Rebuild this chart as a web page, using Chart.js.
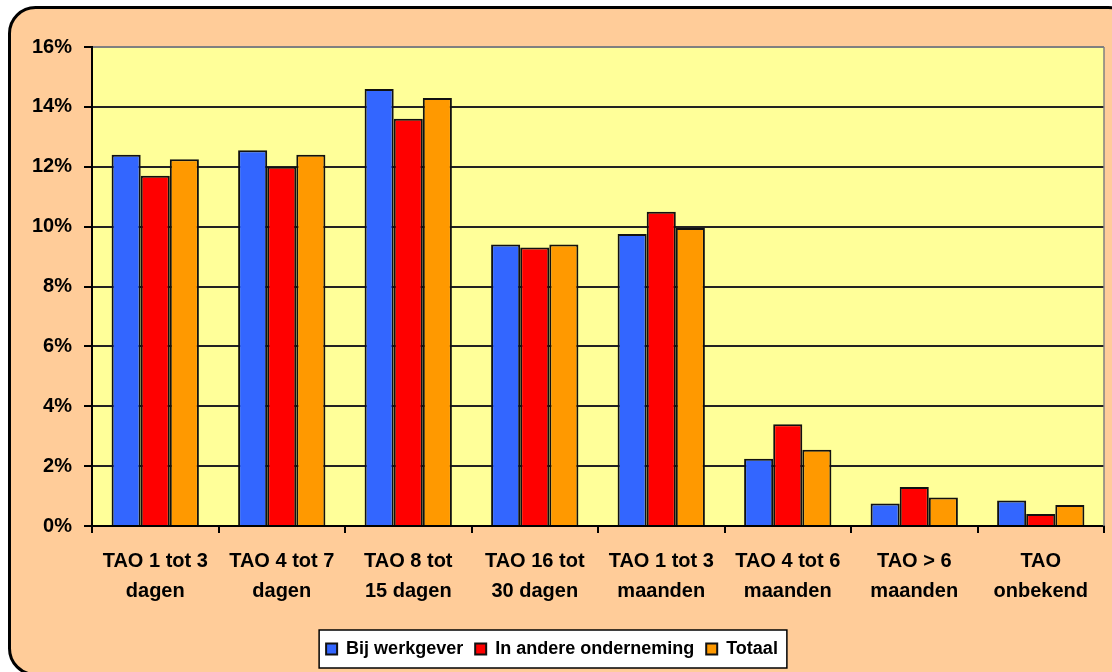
<!DOCTYPE html>
<html>
<head>
<meta charset="utf-8">
<script src="https://cdn.jsdelivr.net/npm/chart.js@4.4.0/dist/chart.umd.min.js"></script>
<style>
  html, body { margin: 0; padding: 0; background: #fff; }
  #wrap { width: 1112px; height: 672px; }
</style>
</head>
<body>
<div id="wrap"><canvas id="tao" width="1112" height="672"></canvas></div>
<script>
// chart data
const categories = [
    ['TAO 1 tot 3', 'dagen'],
    ['TAO 4 tot 7', 'dagen'],
    ['TAO 8 tot', '15 dagen'],
    ['TAO 16 tot', '30 dagen'],
    ['TAO 1 tot 3', 'maanden'],
    ['TAO 4 tot 6', 'maanden'],
    ['TAO > 6', 'maanden'],
    ['TAO', 'onbekend']
];
const seriesNames = ['Bij werkgever', 'In andere onderneming', 'Totaal'];
const bijWerkgever = [12.4, 12.55, 14.6, 9.4, 9.75, 2.25, 0.75, 0.85];
const andereOnderneming = [11.7, 12.0, 13.6, 9.3, 10.5, 3.4, 1.3, 0.4];
const totaal = [12.25, 12.4, 14.3, 9.4, 9.95, 2.55, 0.95, 0.7];
const yTicks = [0, 2, 4, 6, 8, 10, 12, 14, 16];

const FONT = "'Liberation Sans', Arial, sans-serif";

// background: rounded peach frame, yellow plot area, white legend box
const framePlugin = {
    id: 'frame',
    beforeDraw(chart) {
        const ctx = chart.ctx;
        const area = chart.chartArea;
        ctx.save();
        ctx.fillStyle = '#fff';
        ctx.fillRect(0, 0, chart.width, chart.height);

        ctx.beginPath();
        ctx.roundRect(9.5, 7.5, 1125, 667, 26);
        ctx.fillStyle = '#FFCC99';
        ctx.fill();
        ctx.lineWidth = 3;
        ctx.strokeStyle = '#000';
        ctx.stroke();

        ctx.fillStyle = '#FFFF99';
        ctx.fillRect(area.left, area.top, area.right - area.left, area.bottom - area.top);

        const boxes = chart.legend.legendHitBoxes;
        if (boxes && boxes.length) {
            const l = Math.min(...boxes.map(b => b.left)) - 7;
            const r = Math.max(...boxes.map(b => b.left + b.width)) + 9;
            const t = Math.min(...boxes.map(b => b.top)) - 10;
            const b2 = Math.max(...boxes.map(b => b.top + b.height)) + 10;
            ctx.fillStyle = '#fff';
            ctx.fillRect(l, t, r - l, b2 - t);
            ctx.lineWidth = 1.5;
            ctx.strokeStyle = '#000';
            ctx.strokeRect(l, t, r - l, b2 - t);
        }
        ctx.restore();
    },
    afterDraw(chart) {
        // gray right edge of plot area
        const ctx = chart.ctx;
        const area = chart.chartArea;
        ctx.save();
        ctx.strokeStyle = '#808080';
        ctx.lineWidth = 1.5;
        ctx.beginPath();
        ctx.moveTo(area.right, area.top);
        ctx.lineTo(area.right, area.bottom);
        ctx.stroke();
        ctx.restore();
    }
};

const colors = ['#3366FF', '#FF0000', '#FF9900'];
const values = [bijWerkgever, andereOnderneming, totaal];

new Chart(document.getElementById('tao').getContext('2d'), {
    type: 'bar',
    data: {
        labels: categories,
        datasets: seriesNames.map((name, i) => ({
            label: name,
            data: values[i],
            backgroundColor: colors[i],
            borderColor: '#111',
            borderWidth: 2,
            barPercentage: 1.0,
            categoryPercentage: 0.69
        }))
    },
    options: {
        responsive: false,
        animation: false,
        layout: { padding: { left: 0, right: 8, top: 47, bottom: 4 } },
        plugins: {
            tooltip: { enabled: false },
            legend: {
                position: 'bottom',
                labels: {
                    color: '#000',
                    font: { family: FONT, size: 18, weight: 'bold' },
                    boxWidth: 11,
                    boxHeight: 11,
                    padding: 12
                }
            }
        },
        scales: {
            x: {
                afterFit: s => { s.height = 102; },
                grid: {
                    offset: true,
                    drawOnChartArea: false,
                    drawTicks: true,
                    tickLength: 7,
                    color: '#000',
                    lineWidth: 2
                },
                border: { color: '#000', width: 2 },
                ticks: {
                    color: '#000',
                    padding: 13,
                    maxRotation: 0,
                    font: { family: FONT, size: 20, weight: 'bold', lineHeight: 1.5 }
                }
            },
            y: {
                min: 0,
                max: 16,
                afterFit: s => { s.width = 92; },
                afterBuildTicks: s => { s.ticks = yTicks.map(v => ({ value: v })); },
                grid: {
                    color: c => (c.tick && c.tick.value === 16 ? '#808080' : '#222'),
                    lineWidth: 2,
                    tickLength: 8,
                    tickColor: '#000'
                },
                border: { color: '#000', width: 2 },
                ticks: {
                    color: '#000',
                    padding: 12,
                    font: { family: FONT, size: 20, weight: 'bold' },
                    callback: v => v + '%'
                }
            }
        }
    },
    plugins: [framePlugin]
});
</script>
</body>
</html>
